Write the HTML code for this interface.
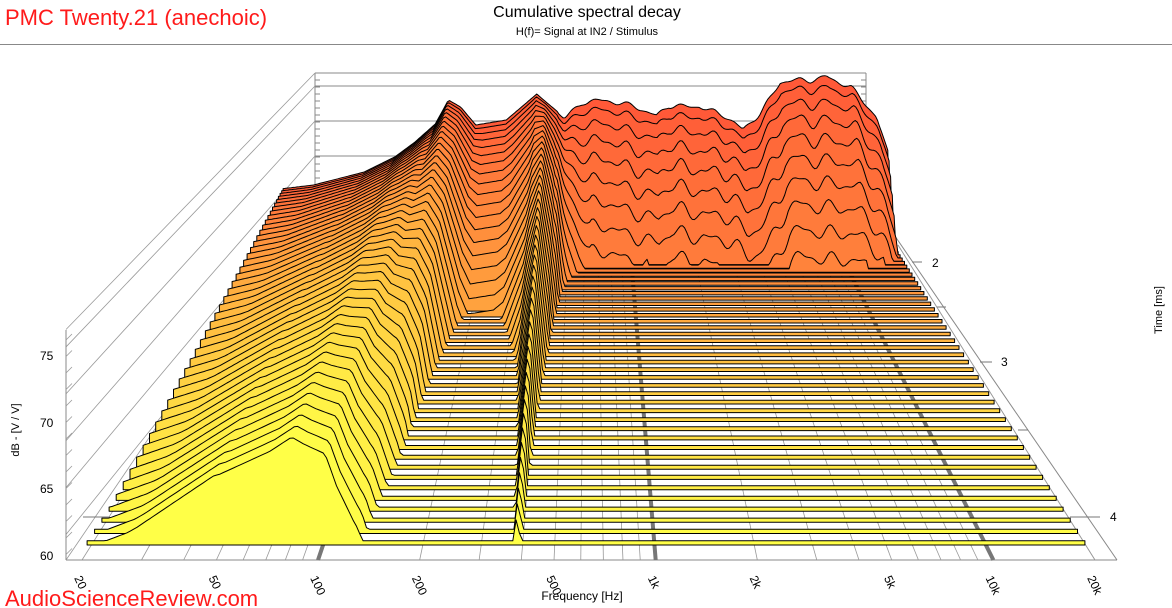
<!DOCTYPE html>
<html><head><meta charset="utf-8">
<style>
html,body{margin:0;padding:0;background:#fff;}
svg{display:block;}
text{font-family:"Liberation Sans",Arial,sans-serif;}
</style></head>
<body>
<svg id="s" width="1172" height="608" viewBox="0 0 1172 608" xmlns="http://www.w3.org/2000/svg">
<rect width="1172" height="608" fill="#fff"/>
<line x1="0" y1="44.5" x2="1172" y2="44.5" stroke="#888" stroke-width="1"/>
<text x="5" y="25" font-size="22" fill="#ff1a1a">PMC Twenty.21 (anechoic)</text>
<text x="587" y="17" font-size="16" text-anchor="middle" fill="#000">Cumulative spectral decay</text>
<text x="587" y="35" font-size="11" text-anchor="middle" fill="#000">H(f)= Signal at IN2 / Stimulus</text>
<g id="grid"></g>
<g id="slices"></g>
<g font-size="12" fill="#000">
<text x="40" y="360">75</text>
<text x="40" y="427">70</text>
<text x="40" y="493">65</text>
<text x="40" y="560">60</text>
<text x="932" y="267">2</text>
<text x="1001" y="366">3</text>
<text x="1110" y="521">4</text>
</g>
<text transform="translate(19,430) rotate(-90)" font-size="11" text-anchor="middle">dB - [V / V]</text>
<text transform="translate(1162,310) rotate(-90)" font-size="11" text-anchor="middle">Time [ms]</text>
<g font-size="12" fill="#000" id="flabels"></g>
<text x="582" y="600" font-size="12" text-anchor="middle">Frequency [Hz]</text>
<text x="5" y="606" font-size="22" fill="#ff1a1a">AudioScienceReview.com</text>
</svg>
<script>
(function(){
var NS="http://www.w3.org/2000/svg";
function el(p,n,a){var e=document.createElementNS(NS,n);for(var k in a)e.setAttribute(k,a[k]);p.appendChild(e);return e;}
var grid=document.getElementById('grid'),sl=document.getElementById('slices'),fl=document.getElementById('flabels');
var BY=245,FY=560,bL=280,bR=898,fL=82,fR=1095;
el(grid,'line',{x1:315,y1:73,x2:866,y2:73,stroke:'#888','stroke-width':1});
[86,121,156].forEach(function(y){el(grid,'line',{x1:315,y1:y,x2:866,y2:y,stroke:'#888','stroke-width':1});});
el(grid,'line',{x1:315,y1:73,x2:315,y2:190,stroke:'#888','stroke-width':1});
el(grid,'line',{x1:866,y1:73,x2:866,y2:120,stroke:'#888','stroke-width':1});
for(var y=80;y<190;y+=7){el(grid,'line',{x1:315,y1:y,x2:320,y2:y,stroke:'#888','stroke-width':1});el(grid,'line',{x1:861,y1:y,x2:866,y2:y,stroke:'#888','stroke-width':1});}
[73,86,121,156,191,226].forEach(function(y){var fy=560-(245-y)*1.34;el(grid,'line',{x1:315,y1:y,x2:66,y2:fy,stroke:'#999','stroke-width':0.8});});
el(grid,'line',{x1:66,y1:330,x2:66,y2:560,stroke:'#888','stroke-width':1});
for(var y=340;y<560;y+=16.5){el(grid,'line',{x1:66,y1:y,x2:72,y2:y-6,stroke:'#999','stroke-width':0.8});}
el(grid,'line',{x1:66,y1:560,x2:1117,y2:560,stroke:'#888','stroke-width':1});
el(grid,'line',{x1:1117,y1:560,x2:886,y2:223,stroke:'#888','stroke-width':1});
el(grid,'line',{x1:66,y1:560,x2:280,y2:245,stroke:'#999','stroke-width':0.8});
[[912,922,262],[937,946,307],[980,992,362],[1018,1028,430],[1070,1100,517]].forEach(function(t){el(grid,'line',{x1:t[0],y1:t[2],x2:t[1],y2:t[2],stroke:'#777','stroke-width':1});});
[[192,215,362],[155,162,430],[83,110,517]].forEach(function(t){el(grid,'line',{x1:t[0],y1:t[2],x2:t[1],y2:t[2],stroke:'#777','stroke-width':1});});
function uf(f){return Math.log10(f/20)/3;}
var fs=[];for(var d=10;d<=10000;d*=10){for(var m=1;m<10;m++){var f=d*m;if(f>=20&&f<=20000)fs.push(f);}}fs.push(20000);
fs.forEach(function(f){var u=uf(f);var thick=(f==100||f==1000||f==10000);
 el(grid,'line',{x1:fL+u*(fR-fL),y1:FY,x2:bL+u*(bR-bL),y2:BY,stroke:thick?'#777':'#999','stroke-width':thick?4:0.8});});
[['20',20],['50',50],['100',100],['200',200],['500',500],['1k',1000],['2k',2000],['5k',5000],['10k',10000],['20k',20000]].forEach(function(a){
 var x=fL+uf(a[1])*(fR-fL)-8;el(fl,'text',{transform:'translate('+x+',578) rotate(65)'}).textContent=a[0];});
var H=[[277,53],[310,57],[360,70],[390,85],[410,100],[430,118],[443,142],[455,135],[470,117],[500,122],[515,135],[530,148],[545,135],[557,125],[575,140],[600,140],[625,138],[648,125],[660,135],[690,137],[715,125],[733,112],[750,130],[770,159],[800,162],[815,167],[840,153],[865,125],[878,85],[886,5]];
var Hu=H.map(function(p){return [(p[0]-277)/609,p[1]];});
var D=[[0,60],[0.045,50],[0.13,19],[0.207,15],[0.24,45],[0.27,127],[0.29,170],[0.33,380],[0.38,380],[0.41,280],[0.43,113],[0.445,280],[0.47,700],[0.5,1200],[1,1200]];
function interp(t,u){if(u<=t[0][0])return t[0][1];for(var i=1;i<t.length;i++){if(u<=t[i][0]){var a=t[i-1],b=t[i];var k=(u-a[0])/(b[0]-a[0]);return a[1]+(b[1]-a[1])*k;}}return t[t.length-1][1];}
var N=45,a=0.3;
for(var i=0;i<N;i++){
 var s=i/(N-1);var p=a*s+(1-a)*s*s;
 var base=BY+(545-BY)*p;var xl=bL+(fL-bL)*p,xr=bR+(fR-bR)*p;
 var sc=1+0.3*s,fh=3+1.2*s;
 var g=Math.pow(s,1.3);
 var pts=[];var u0=0.005,u1=0.99;
 var lx=xl+u0*(xr-xl);pts.push(lx.toFixed(1)+','+base.toFixed(1));
 for(var j=0;j<=300;j++){var u=u0+(u1-u0)*j/300;
  var h=interp(Hu,u);var dd=interp(D,u);
  var w=0; if(u>0.45){var k=0.35+0.65*Math.min(s*12,1);w=(Math.sin(u*137+s*9)*5+Math.sin(u*61+1.3)*4+Math.sin(u*223+2)*3)*k;}
  var r=h-dd*g;var v=r>0?Math.max(0,r+w):0;
  if(u>0.985)v=0;
  var x=xl+u*(xr-xl),y=base-fh-sc*v;pts.push(x.toFixed(1)+','+y.toFixed(1));}
 var rx=xl+u1*(xr-xl);pts.push(rx.toFixed(1)+','+base.toFixed(1));
 var hue=10+50*Math.pow(s,0.9),lt=61+3*s;
 el(sl,'polygon',{points:pts.join(' '),fill:'hsl('+hue.toFixed(1)+',100%,'+lt+'%)',stroke:'#000','stroke-width':1,'stroke-linejoin':'round'});
}
})();
</script>
</body></html>
